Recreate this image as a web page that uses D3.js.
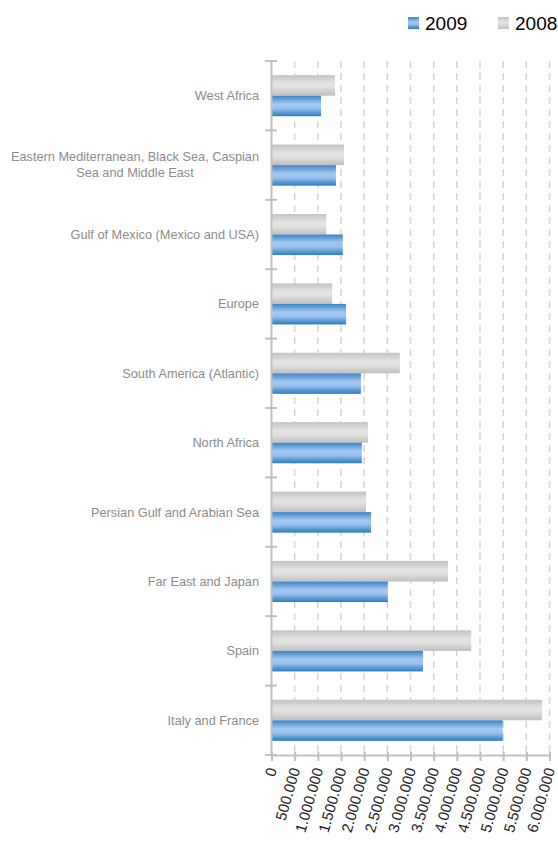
<!DOCTYPE html>
<html>
<head>
<meta charset="utf-8">
<script src="https://cdn.jsdelivr.net/npm/d3@7"></script>
<style>
  html, body { margin: 0; padding: 0; background: #fff; }
  svg { display: block; }
</style>
</head>
<body>
<svg id="chart" width="558" height="841"></svg>
<script>
const categories = [
  "West Africa",
  "Eastern Mediterranean, Black Sea, Caspian|Sea and Middle East",
  "Gulf of Mexico (Mexico and USA)",
  "Europe",
  "South America (Atlantic)",
  "North Africa",
  "Persian Gulf and Arabian Sea",
  "Far East and Japan",
  "Spain",
  "Italy and France"
];
const values2009 = [1070000, 1390000, 1540000, 1610000, 1930000, 1950000, 2150000, 2510000, 3270000, 4990000];
const values2008 = [1370000, 1565000, 1180000, 1310000, 2770000, 2080000, 2040000, 3810000, 4310000, 5840000];
const seriesNames = ["2008", "2009"];
const legendNames = ["2009", "2008"];
const tickValues = d3.range(0, 6000001, 500000);

const svg = d3.select("#chart");
const x = d3.scaleLinear().domain([0, 6000000]).range([271.5, 549.5]);
const y = d3.scaleBand().domain(categories).range([61, 755]).paddingInner(0).paddingOuter(0);
const yInner = d3.scaleBand().domain(seriesNames).range([0, y.bandwidth()]).paddingInner(0).paddingOuter(0.69);

const locale = d3.formatLocale({decimal: ",", thousands: ".", grouping: [3], currency: ["", ""]});
const fmt = locale.format(",");

// gradients
const defs = svg.append("defs");
function grad(id, stops) {
  const g = defs.append("linearGradient").attr("id", id).attr("x1", 0).attr("y1", 0).attr("x2", 0).attr("y2", 1);
  stops.forEach(s => g.append("stop").attr("offset", s[0]).attr("stop-color", s[1]));
}
grad("gBlue", [["0%", "#3a84c8"], ["40%", "#a2c7f0"], ["60%", "#9cc3ee"], ["100%", "#2a7cc0"]]);
grad("gGray", [["0%", "#c2c2c2"], ["40%", "#e2e2e2"], ["60%", "#e0e0e0"], ["100%", "#bfbfbf"]]);
const fills = {"2009": "url(#gBlue)", "2008": "url(#gGray)"};

// gridlines
svg.append("g").selectAll("line").data(tickValues.filter(d => d > 0)).join("line")
  .attr("x1", d => x(d)).attr("x2", d => x(d))
  .attr("y1", 61).attr("y2", 755)
  .attr("stroke", "#d4d4d4").attr("stroke-width", 1.5)
  .attr("stroke-dasharray", "7,5");

// bars
const data = categories.map((c, i) => ({cat: c, "2008": values2008[i], "2009": values2009[i]}));
const gBars = svg.append("g");
data.forEach(d => {
  seriesNames.forEach(s => {
    gBars.append("rect")
      .attr("x", x(0))
      .attr("y", y(d.cat) + yInner(s))
      .attr("width", x(d[s]) - x(0))
      .attr("height", yInner.bandwidth())
      .attr("fill", fills[s]);
  });
});

// y axis line and ticks
const axisColor = "#bfbfbf";
svg.append("line").attr("x1", x(0)).attr("x2", x(0)).attr("y1", 61).attr("y2", 755)
  .attr("stroke", axisColor).attr("stroke-width", 2);
const yTicks = categories.map(c => y(c)).concat([755]);
svg.append("g").selectAll("line").data(yTicks).join("line")
  .attr("x1", 265).attr("x2", 277).attr("y1", d => d).attr("y2", d => d)
  .attr("stroke", axisColor).attr("stroke-width", 2);

// x axis
const xAxis = svg.append("g").attr("transform", "translate(0,755)")
  .call(d3.axisBottom(x).tickValues(tickValues).tickSizeInner(6).tickSizeOuter(0).tickFormat(fmt));
xAxis.select(".domain").attr("stroke", axisColor).attr("stroke-width", 2);
xAxis.selectAll(".tick line").attr("stroke", axisColor).attr("stroke-width", 2).attr("y1", -3);
xAxis.selectAll(".tick text")
  .attr("font-family", "'Liberation Sans', Arial, sans-serif")
  .attr("font-size", 15)
  .attr("fill", "#222")
  .attr("text-anchor", "end")
  .attr("y", 0).attr("dy", "0.35em")
  .attr("transform", "translate(0,13) rotate(-74)");

// category labels
const labelG = svg.append("g")
  .attr("font-family", "'Liberation Sans', Arial, sans-serif")
  .attr("font-size", 12.75)
  .attr("fill", "#8c8c8c");
categories.forEach(c => {
  const lines = c.split("|");
  const cy = y(c) + y.bandwidth() / 2;
  if (lines.length === 1) {
    labelG.append("text").attr("x", 259).attr("y", cy + 4.5).attr("text-anchor", "end").text(lines[0]);
  } else {
    const t1 = labelG.append("text").attr("x", 259).attr("y", cy - 4).attr("text-anchor", "end").text(lines[0]);
    const w = t1.node().getComputedTextLength();
    labelG.append("text").attr("x", 259 - w / 2).attr("y", cy + 12).attr("text-anchor", "middle").text(lines[1]);
  }
});

// legend
const legX = {"2009": 408, "2008": 498};
const leg = svg.append("g");
legendNames.forEach(s => {
  leg.append("rect").attr("x", legX[s]).attr("y", 17).attr("width", 11).attr("height", 12).attr("fill", fills[s]);
  leg.append("text").attr("x", legX[s] + 17).attr("y", 29.5)
    .attr("font-family", "'Liberation Sans', Arial, sans-serif")
    .attr("font-size", 19).attr("fill", "#000").text(s);
});
</script>
</body>
</html>
